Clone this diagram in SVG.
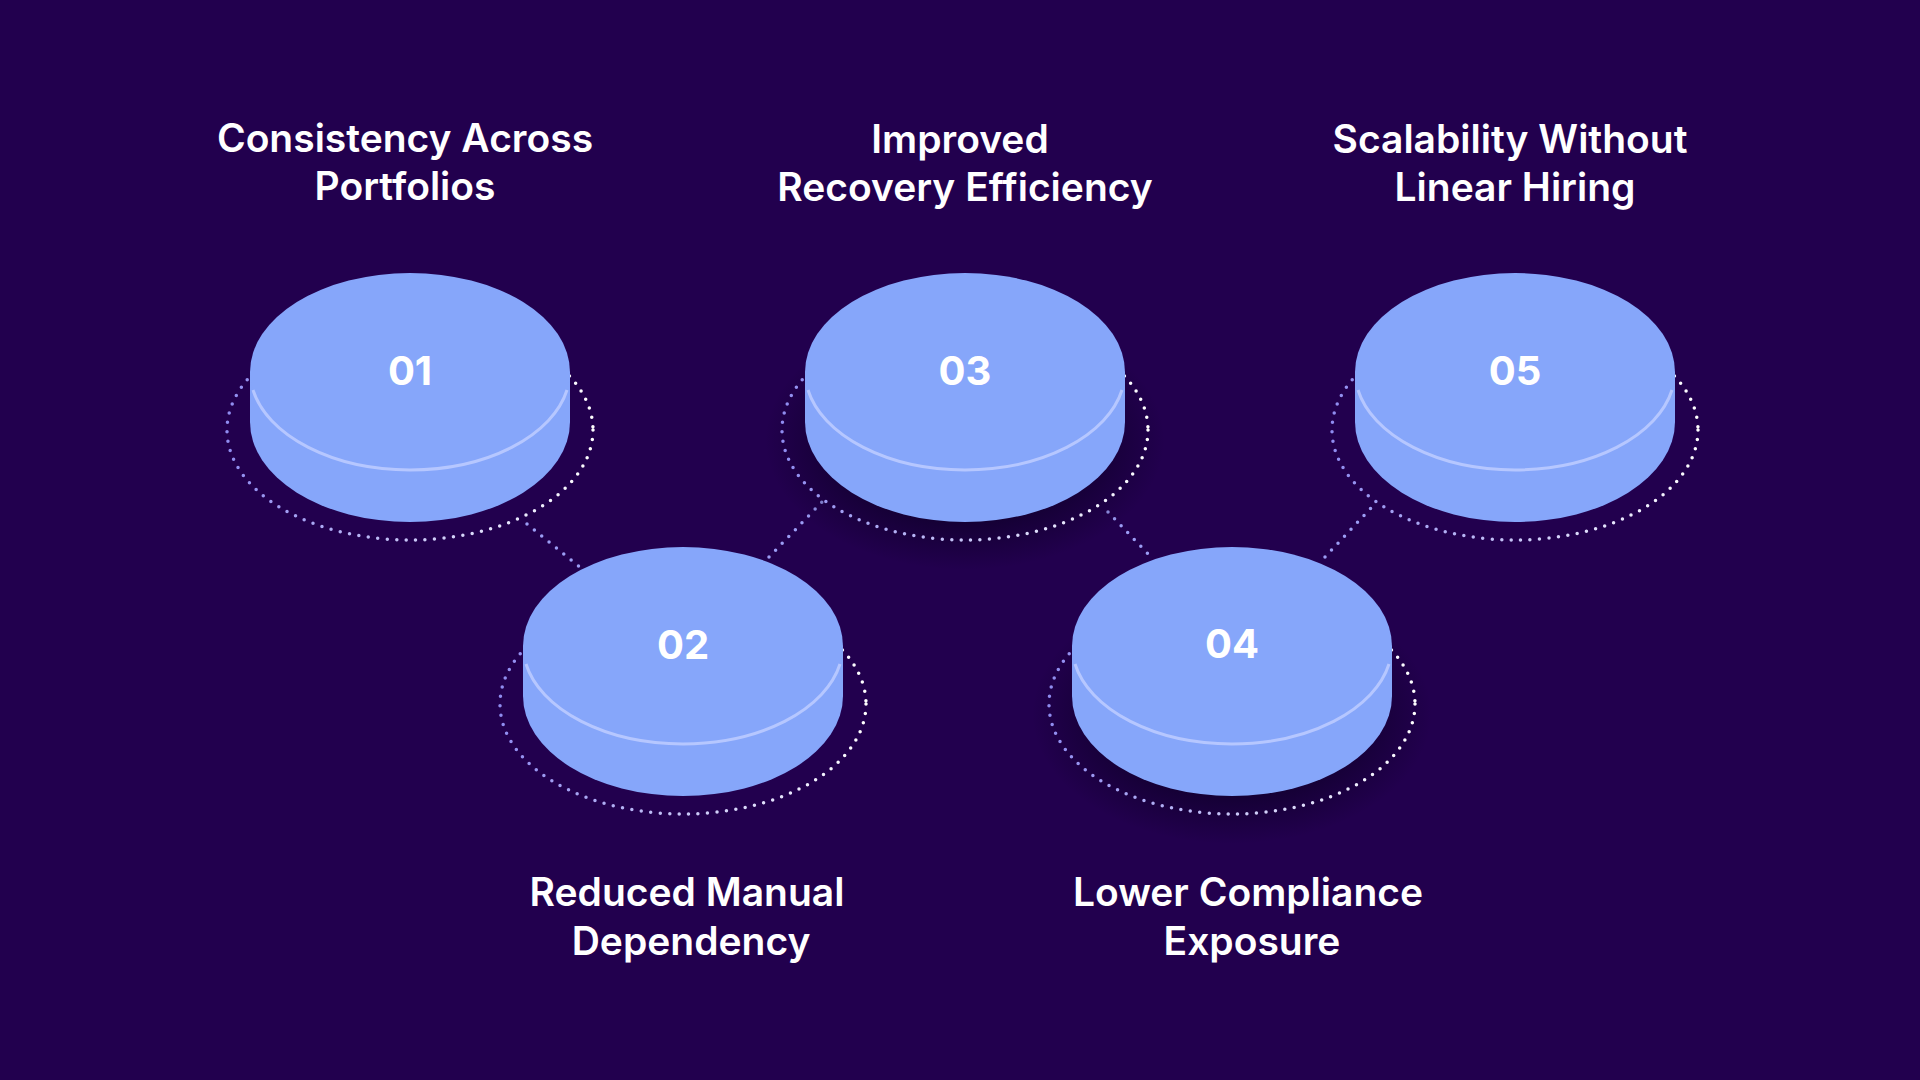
<svg xmlns="http://www.w3.org/2000/svg" width="1920" height="1080" viewBox="0 0 1920 1080">
<defs>
<linearGradient id="ring" x1="0" y1="0" x2="1" y2="0"><stop offset="0" stop-color="#8f8cf0"/><stop offset="1" stop-color="#ffffff"/></linearGradient>
<radialGradient id="glow"><stop offset="0.6" stop-color="#0a0020" stop-opacity="0.6"/><stop offset="1" stop-color="#0a0020" stop-opacity="0"/></radialGradient>
<g id="disc">
<ellipse cx="0" cy="58" rx="183" ry="110" fill="none" stroke="url(#ring)" stroke-width="3.5" stroke-linecap="round" stroke-dasharray="0 9.5"/>
<path d="M-160 0 L-160 50 A160 100 0 0 0 160 50 L160 0 Z" fill="#86a6fa"/>
<ellipse cx="0" cy="0" rx="160" ry="99" fill="#86a6fa"/>
<path d="M-157 18 A160 99 0 0 0 157 18" fill="none" stroke="#b6c7ff" stroke-width="3"/>
</g>
</defs>
<style>
.lbl{font-family:Inter,"Liberation Sans",sans-serif;font-weight:600;font-size:39px;fill:#ffffff;text-anchor:middle}
.num{font-family:Inter,"Liberation Sans",sans-serif;font-weight:700;font-size:40px;fill:#ffffff;text-anchor:middle}
.con{stroke:#9c9df5;stroke-width:3.5;stroke-linecap:round;stroke-dasharray:0 9.5;fill:none}
</style>
<rect width="1920" height="1080" fill="#22004e"/>
<g id="connectors">
<line class="con" x1="527" y1="524" x2="582" y2="569"/>
<line class="con" x1="769" y1="557" x2="822" y2="502"/>
<line class="con" x1="1108" y1="512" x2="1151" y2="557"/>
<line class="con" x1="1325" y1="557" x2="1371" y2="508"/>
</g>
<ellipse cx="965" cy="440" rx="200" ry="130" fill="url(#glow)"/>
<ellipse cx="1232" cy="714" rx="200" ry="130" fill="url(#glow)"/>
<g id="n1"><use href="#disc" x="410" y="372"/><text class="num" x="410" y="385">01</text>
<text class="lbl" x="405" y="152">Consistency Across</text><text class="lbl" x="405" y="200">Portfolios</text></g>
<g id="n2"><use href="#disc" x="683" y="646"/><text class="num" x="683" y="659">02</text>
<text class="lbl" x="687" y="906">Reduced Manual</text><text class="lbl" x="691" y="955">Dependency</text></g>
<g id="n3"><use href="#disc" x="965" y="372"/><text class="num" x="965" y="385">03</text>
<text class="lbl" x="960" y="153">Improved</text><text class="lbl" x="965" y="201">Recovery Efficiency</text></g>
<g id="n4"><use href="#disc" x="1232" y="646"/><text class="num" x="1232" y="658">04</text>
<text class="lbl" x="1248" y="906">Lower Compliance</text><text class="lbl" x="1252" y="955">Exposure</text></g>
<g id="n5"><use href="#disc" x="1515" y="372"/><text class="num" x="1515" y="385">05</text>
<text class="lbl" x="1510" y="153">Scalability Without</text><text class="lbl" x="1515" y="201">Linear Hiring</text></g>
</svg>
